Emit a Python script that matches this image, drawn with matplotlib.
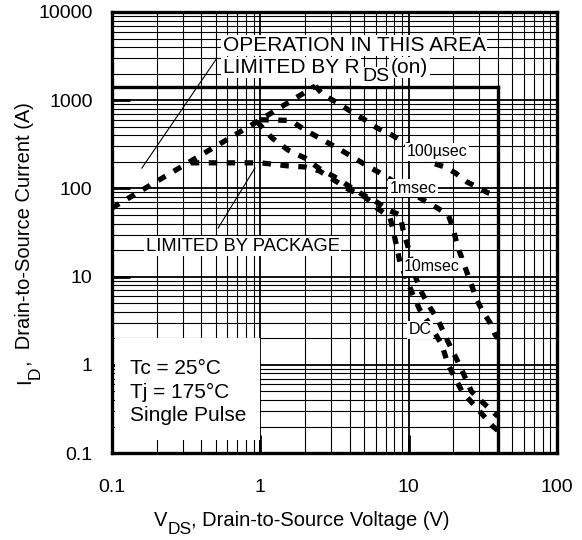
import matplotlib
matplotlib.use("Agg")
import matplotlib.pyplot as plt
from matplotlib.patches import Rectangle
from matplotlib.ticker import LogLocator, NullFormatter

plt.rcParams['font.family'] = ['Liberation Sans', 'DejaVu Sans']

# limits of the safe operating area box
v_max = 40
i_max = 1400

# R_DS(on) limit
rds_v = [0.1, 0.3, 1.0, 2.35]
rds_i = [60, 180, 600, 1450]

# 100 usec
us100_v = [2.35, 2.65, 3.34, 4.22, 5.08, 6.12, 7.72, 8.75, 14.4, 17.6, 20.6, 24.8, 28.9, 34.3, 40]
us100_i = [1450, 1146, 930, 716, 597, 484, 403, 354, 194, 175, 150, 118, 104, 89, 82]

# 1 msec
ms1_v = [1.0, 1.6, 2.0, 2.5, 3.3, 4.2, 5.25, 6.4, 12.9, 15.6, 18.5, 19.9, 21.2, 24.8, 28.9, 31.7, 35.4, 38.3, 40]
ms1_i = [600, 590, 460, 373, 287, 227, 180, 150, 72, 60, 50, 36, 23, 11, 5.4, 4.0, 3.0, 2.2, 2.0]

# 10 msec
ms10_v = [0.95, 1.2, 1.54, 2.0, 2.5, 3.3, 4.0, 4.9, 6.1, 7.26, 8.75, 9.17, 9.9, 11.1, 12.3, 13.9, 15.8, 18.5, 22, 26.5, 30.3, 36.5, 40]
ms10_i = [570, 373, 272, 221, 168, 130, 105, 85, 70, 57, 50, 34, 21.7, 10, 6.5, 4.5, 3.2, 1.8, 1.0, 0.5, 0.4, 0.3, 0.26]

# DC (starts on the package limit)
dc_v = [0.34, 1.0, 1.54, 2.0, 2.5, 3.3, 4.0, 5.08, 6.1, 7.49, 7.85, 8.35, 8.75, 9.76, 10.7, 11.9, 14.0, 16.7, 18.5, 22.9, 30, 37, 40]
dc_i = [195, 195, 180, 175, 158, 118, 96, 80, 60, 47, 34, 21, 14.3, 9.1, 6.2, 4.2, 2.8, 1.7, 1.0, 0.5, 0.3, 0.2, 0.18]

x_ticks = [0.1, 1, 10, 100]
x_labels = ['0.1', '1', '10', '100']
y_ticks = [0.1, 1, 10, 100, 1000, 10000]
y_labels = ['0.1', '1', '10', '100', '1000', '10000']

fig = plt.figure(figsize=(5.82, 5.40), dpi=100)
ax = fig.add_axes([0.1924, 0.161, 0.7646, 0.8168])
ax.set_xscale('log')
ax.set_yscale('log')
ax.set_xlim(0.1, 100)
ax.set_ylim(0.1, 10000)

# grid
ax.xaxis.set_minor_locator(LogLocator(base=10, subs=range(2, 10)))
ax.yaxis.set_minor_locator(LogLocator(base=10, subs=range(2, 10)))
ax.set_xticks(x_ticks)
ax.set_xticklabels(x_labels)
ax.set_yticks(y_ticks)
ax.set_yticklabels(y_labels)
ax.xaxis.set_minor_formatter(NullFormatter())
ax.yaxis.set_minor_formatter(NullFormatter())
ax.grid(True, which='major', color='black', lw=1.3)
ax.grid(True, which='minor', color='black', lw=0.8)
ax.tick_params(which='minor', direction='in', length=0)
ax.tick_params(which='major', direction='in', length=13, width=2, labelsize=14)
ax.tick_params(axis='x', pad=19)
ax.tick_params(axis='y', pad=14)
for s in ax.spines.values():
    s.set_linewidth(2.4)

# limit box
ax.plot([0.1, v_max], [i_max, i_max], color='black', lw=2.4)
ax.plot([v_max, v_max], [0.1, i_max], color='black', lw=2.4)

dash = dict(color='black', lw=3.8, ls=(0, (1.6, 1.8)), solid_capstyle='butt')
ax.plot(rds_v, rds_i, **dash)
ax.plot(us100_v, us100_i, **dash)
ax.plot(ms1_v, ms1_i, **dash)
ax.plot(ms10_v, ms10_i, **dash)
ax.plot(dc_v, dc_i, **dash)


def chain(first, pieces, rot=0, **kw):
    # put text pieces one after the other; each piece: (text, size, shift, gap) in points
    prev = first
    for s, fs, dy, gap in pieces:
        if rot == 0:
            prev = ax.annotate(s, xy=(1, 0), xycoords=(prev, first), xytext=(gap, -dy),
                               textcoords='offset points', fontsize=fs, ha='left', va='bottom',
                               annotation_clip=False, **kw)
        else:
            prev = ax.annotate(s, xy=(1, 1), xycoords=(first, prev), xytext=(dy, gap),
                               textcoords='offset points', fontsize=fs, ha='right', va='bottom',
                               rotation=90, annotation_clip=False, **kw)
    return prev


wbox = dict(facecolor='white', edgecolor='none', pad=1.0)

# top annotation
ax.text(0.56, 3612, 'OPERATION IN THIS AREA', fontsize=15, ha='left', va='baseline',
        bbox=wbox, zorder=4)
t = ax.text(0.56, 2032, 'LIMITED BY R', fontsize=15, ha='left', va='baseline', bbox=wbox, zorder=4)
chain(t, [('DS', 14, 5.8, 2), ('(on)', 15, 0, 1)], bbox=wbox, zorder=4)
ax.plot([0.159, 0.51], [170, 3000], color='black', lw=0.8)

ax.text(0.759, 22.2, 'LIMITED BY PACKAGE', fontsize=13.2, ha='center', va='center',
        bbox=wbox, zorder=4)
ax.plot([0.52, 0.92], [35.6, 170], color='black', lw=0.8)

ax.text(15.6, 259, '100\u00b5sec', fontsize=11.5, ha='center', va='center', bbox=wbox, zorder=4)
ax.text(10.7, 101, '1msec', fontsize=11.5, ha='center', va='center', bbox=wbox, zorder=4)
ax.text(14.4, 12.9, '10msec', fontsize=11.5, ha='center', va='center', bbox=wbox, zorder=4)
ax.text(11.9, 2.5, 'DC', fontsize=11.5, ha='center', va='center', bbox=wbox, zorder=4)

ax.add_patch(Rectangle((0.105, 0.14), 0.895, 1.86, facecolor='white', edgecolor='none', zorder=3))
ax.text(0.132, 0.49, 'Tc = 25\u00b0C\nTj = 175\u00b0C\nSingle Pulse', fontsize=15,
        ha='left', va='center', linespacing=1.3, zorder=4)

# axis titles with full size subscripts
tx = ax.text(0.094, -0.1655, 'V', fontsize=14.5, ha='left', va='baseline',
             transform=ax.transAxes, clip_on=False)
chain(tx, [('DS', 12.5, 5, 0), (', Drain-to-Source Voltage (V)', 14.5, 0, 0)])
ty = ax.text(-0.175, 0.156, 'I', fontsize=14.5, ha='right', va='bottom', rotation=90,
             transform=ax.transAxes, clip_on=False)
chain(ty, [('D', 12.5, 5.8, 0), (',  Drain-to-Source Current (A)', 14.5, 0, 0)], rot=90)

fig.savefig('out.png', dpi=100)
